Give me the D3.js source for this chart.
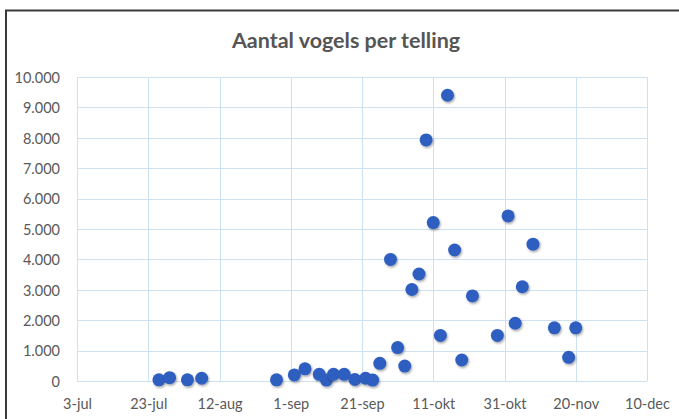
<!DOCTYPE html>
<html>
<head>
    <title>Aantal vogels per telling</title>
    <script src="https://d3js.org/d3.v7.min.js"></script>
    <style>
        body {
            margin: 0;
            background: #fff;
        }
        .tick-label {
            font-family: Lato, "Open Sans", sans-serif;
            font-size: 14.5px;
            fill: #595959;
        }
        .title {
            font-family: Lato, "Open Sans", sans-serif;
            font-size: 21.5px;
            font-weight: bold;
            fill: #555;
        }
        .grid {
            stroke: #cce2f2;
            stroke-width: 1px;
        }
    </style>
</head>
<body>
    <svg width="679" height="419"></svg>

    <script>
        // telling dates and counts
        const countDates = [
            "2017-07-26", "2017-07-29", "2017-08-03", "2017-08-07", "2017-08-28",
            "2017-09-02", "2017-09-05", "2017-09-09", "2017-09-11", "2017-09-13",
            "2017-09-16", "2017-09-19", "2017-09-22", "2017-09-24", "2017-09-26",
            "2017-09-29", "2017-10-01", "2017-10-03", "2017-10-05", "2017-10-07",
            "2017-10-09", "2017-10-11", "2017-10-13", "2017-10-15", "2017-10-17",
            "2017-10-19", "2017-10-22", "2017-10-29", "2017-11-01", "2017-11-03",
            "2017-11-05", "2017-11-08", "2017-11-14", "2017-11-18", "2017-11-20"
        ];
        const birdCounts = [
            40, 110, 40, 90, 40,
            200, 400, 220, 30, 220,
            220, 50, 90, 30, 580,
            4000, 1100, 490, 3010, 3520,
            7930, 5210, 1500, 9400, 4310,
            690, 2800, 1500, 5430, 1900,
            3100, 4500, 1750, 780, 1750
        ];

        // x axis ticks
        const xTickDates = [
            "2017-07-03", "2017-07-23", "2017-08-12", "2017-09-01", "2017-09-21",
            "2017-10-11", "2017-10-31", "2017-11-20", "2017-12-10"
        ];
        const xTickLabels = ["3-jul", "23-jul", "12-aug", "1-sep", "21-sep", "11-okt", "31-okt", "20-nov", "10-dec"];
        const yTicks = [0, 1000, 2000, 3000, 4000, 5000, 6000, 7000, 8000, 9000, 10000];

        const parseDate = d3.timeParse("%Y-%m-%d");
        const nl = d3.formatLocale({ decimal: ",", thousands: ".", grouping: [3], currency: ["€", ""] });
        const fmt = nl.format(",d");

        const svg = d3.select("svg");
        const margin = { left: 77, right: 32, top: 77, bottom: 38 };
        const width = +svg.attr("width");
        const height = +svg.attr("height");

        const x = d3.scaleTime()
            .domain([parseDate(xTickDates[0]), parseDate(xTickDates[xTickDates.length - 1])])
            .range([margin.left, width - margin.right]);
        const y = d3.scaleLinear()
            .domain([0, 10000])
            .range([height - margin.bottom, margin.top]);

        // shadow under the markers
        const defs = svg.append("defs");
        const filter = defs.append("filter").attr("id", "shadow")
            .attr("x", "-50%").attr("y", "-50%").attr("width", "200%").attr("height", "200%");
        filter.append("feDropShadow")
            .attr("dx", 1).attr("dy", 1.5).attr("stdDeviation", 1.2)
            .attr("flood-color", "#000").attr("flood-opacity", 0.35);

        // frame
        svg.append("line").attr("x1", 5).attr("x2", width).attr("y1", 10.5).attr("y2", 10.5)
            .attr("stroke", "#3a3a3a").attr("stroke-width", 2);
        svg.append("line").attr("x1", 6).attr("x2", 6).attr("y1", 10).attr("y2", height)
            .attr("stroke", "#3a3a3a").attr("stroke-width", 2);

        // gridlines
        svg.append("g").selectAll("line")
            .data(yTicks)
            .enter().append("line")
            .attr("class", "grid")
            .attr("x1", margin.left).attr("x2", width - margin.right)
            .attr("y1", d => Math.round(y(d)) + 0.5).attr("y2", d => Math.round(y(d)) + 0.5);

        svg.append("g").selectAll("line")
            .data(xTickDates)
            .enter().append("line")
            .attr("class", "grid")
            .attr("x1", d => Math.round(x(parseDate(d))) + 0.5).attr("x2", d => Math.round(x(parseDate(d))) + 0.5)
            .attr("y1", margin.top).attr("y2", height - margin.bottom);

        // axes (labels only, Excel-style)
        const yAxis = svg.append("g")
            .attr("transform", `translate(${margin.left - 17},0)`)
            .call(d3.axisLeft(y).tickValues(yTicks).tickFormat(fmt).tickSize(0).tickPadding(0));
        yAxis.select(".domain").remove();
        yAxis.selectAll("text").attr("class", "tick-label").attr("font-family", null).attr("font-size", null)
            .attr("dy", "0.36em");

        const xAxis = svg.append("g")
            .attr("transform", `translate(0,${height - margin.bottom + 16})`)
            .call(d3.axisBottom(x).tickValues(xTickDates.map(parseDate))
                .tickFormat((d, i) => xTickLabels[i]).tickSize(0).tickPadding(0));
        xAxis.select(".domain").remove();
        xAxis.selectAll("text").attr("class", "tick-label").attr("font-family", null).attr("font-size", null)
            .attr("dy", "0.8em");

        // points
        svg.append("g")
            .selectAll("circle")
            .data(countDates.map((d, i) => ({ date: parseDate(d), value: birdCounts[i] })))
            .enter().append("circle")
            .attr("cx", d => x(d.date))
            .attr("cy", d => y(d.value))
            .attr("r", 6.5)
            .attr("fill", "#2f5fc0")
            .attr("filter", "url(#shadow)");

        // title
        svg.append("text")
            .attr("class", "title")
            .attr("x", 346)
            .attr("y", 48)
            .attr("text-anchor", "middle")
            .text("Aantal vogels per telling");
    </script>
</body>
</html>
